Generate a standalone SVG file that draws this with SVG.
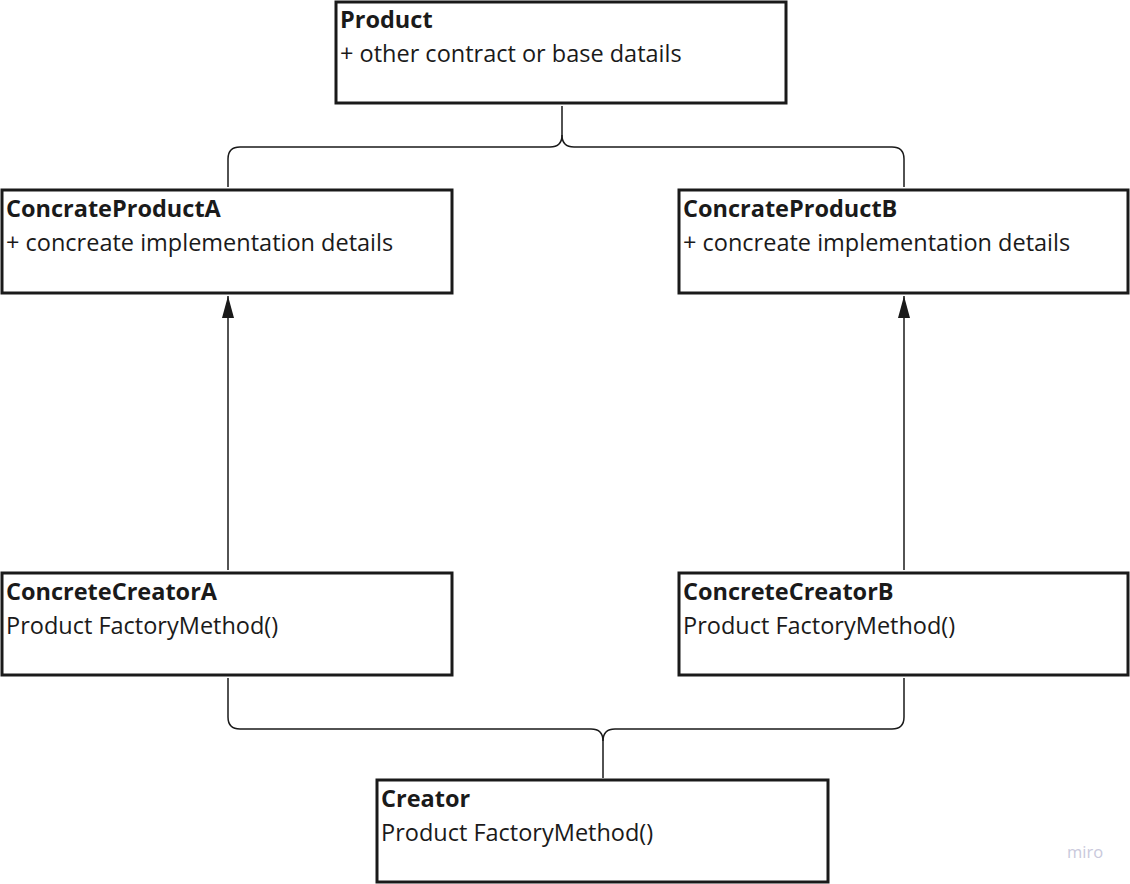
<svg xmlns="http://www.w3.org/2000/svg" width="1130" height="884" viewBox="0 0 1130 884">
<style>
.box{fill:#ffffff;stroke:#1a1a1a;stroke-width:3}
.t{font-family:"Open Sans","Noto Sans","DejaVu Sans",sans-serif;font-size:23.5px;fill:#1a1a1a}
.b{font-weight:bold}
.c{fill:none;stroke:#1a1a1a;stroke-width:1.5}
</style>
<defs>
<marker id="ah" viewBox="0 0 22 12" refX="22" refY="6" markerWidth="22" markerHeight="12" markerUnits="userSpaceOnUse" orient="auto">
<path d="M0,0 L22,6 L0,12 Z" fill="#1a1a1a"/>
</marker>
</defs>
<rect width="1130" height="884" fill="#ffffff"/>
<g id="connectors">
<path class="c" d="M562,106 V135 Q562,147 550,147 H240 Q228,147 228,159 V187"/>
<path class="c" d="M562,135 Q562,147 574,147 H892 Q904,147 904,159 V187"/>
<path class="c" d="M228,678 V717 Q228,729 240,729 H591 Q603,729 603,741 V778"/>
<path class="c" d="M904,678 V717 Q904,729 892,729 H615 Q603,729 603,741"/>
<line class="c" x1="228" y1="570" x2="228" y2="296" marker-end="url(#ah)"/>
<line class="c" x1="904" y1="570" x2="904" y2="296" marker-end="url(#ah)"/>
</g>
<g id="product">
<rect class="box" x="336" y="2" width="450" height="101"/>
<text class="t b" x="340" y="28">Product</text>
<text class="t" x="340" y="62">+ other contract or base datails</text>
</g>
<g id="concrateProductA">
<rect class="box" x="2" y="190" width="450" height="103"/>
<text class="t b" x="6" y="217">ConcrateProductA</text>
<text class="t" x="6" y="251">+ concreate implementation details</text>
</g>
<g id="concrateProductB">
<rect class="box" x="679" y="190" width="449" height="103"/>
<text class="t b" x="683" y="217">ConcrateProductB</text>
<text class="t" x="683" y="251">+ concreate implementation details</text>
</g>
<g id="concreteCreatorA">
<rect class="box" x="2" y="573" width="450" height="102"/>
<text class="t b" x="6" y="600">ConcreteCreatorA</text>
<text class="t" x="6" y="634">Product FactoryMethod()</text>
</g>
<g id="concreteCreatorB">
<rect class="box" x="679" y="573" width="449" height="102"/>
<text class="t b" x="683" y="600">ConcreteCreatorB</text>
<text class="t" x="683" y="634">Product FactoryMethod()</text>
</g>
<g id="creator">
<rect class="box" x="377" y="780" width="451" height="102"/>
<text class="t b" x="381" y="807">Creator</text>
<text class="t" x="381" y="841">Product FactoryMethod()</text>
</g>
<text x="1067" y="858" font-family="'Open Sans','Noto Sans',sans-serif" font-size="16.5" fill="#c9c9dc">miro</text>
</svg>
